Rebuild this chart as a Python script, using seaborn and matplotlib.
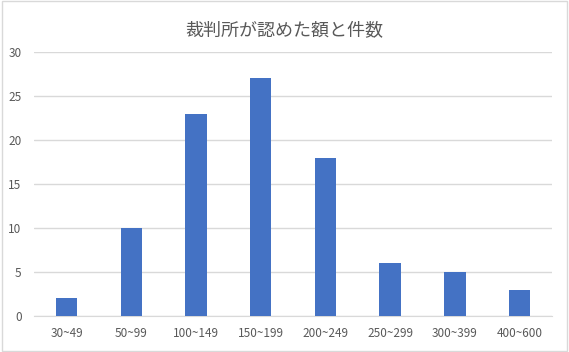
import matplotlib
matplotlib.use("Agg")
import pandas as pd
import numpy as np
from matplotlib import pyplot as plt
from matplotlib.patches import Rectangle
import seaborn as sns

# Data
categories = ["30~49", "50~99", "100~149", "150~199", "200~249", "250~299", "300~399", "400~600"]
counts = [2, 10, 23, 27, 18, 6, 5, 3]
title = "裁判所が認めた額と件数"

sns.set_style("white")
plt.rcParams['font.family'] = ['Noto Sans CJK JP', 'DejaVu Sans']

df = pd.DataFrame({"range": categories, "count": counts})

fig = plt.figure(figsize=(5.69, 3.52), dpi=100)
ax = fig.add_axes([0.06, 0.1023, 0.91, 0.75])

sns.barplot(data=df, x="range", y="count", color="#4472C4", width=0.33,
            saturation=1, linewidth=0, ax=ax, zorder=3)

ax.set_ylim(0, 30)
ax.set_yticks(np.arange(0, 31, 5))
ax.set_xlim(-0.5, len(categories) - 0.5)
ax.yaxis.grid(True, color="#D9D9D9", linewidth=1, zorder=0)
ax.set_axisbelow(True)
for side in ["top", "right", "left"]:
    ax.spines[side].set_visible(False)
ax.spines["bottom"].set_color("#D9D9D9")
ax.tick_params(axis="both", length=0, labelsize=8.5, colors="#595959")
ax.tick_params(axis="x", pad=8)
ax.tick_params(axis="y", pad=9)
ax.set_xlabel("")
ax.set_ylabel("")

fig.text(0.5, 0.912, title, ha="center", va="center", fontsize=13, color="#595959")

# Chart frame
fig.patches.append(Rectangle((0.003, 0.004), 0.994, 0.992, transform=fig.transFigure,
                             fill=False, edgecolor="#D9D9D9", linewidth=1))

fig.savefig("out.png", dpi=100)
